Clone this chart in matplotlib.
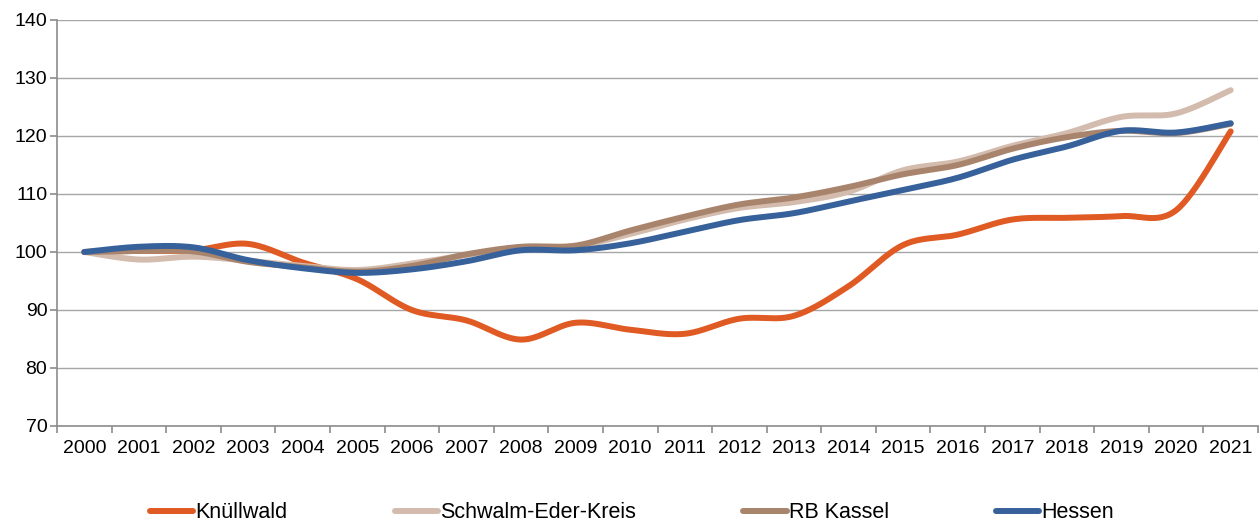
import numpy as np
import matplotlib
matplotlib.use('Agg')
import matplotlib.pyplot as plt

plt.rcParams['font.family'] = ['Liberation Sans', 'DejaVu Sans']

years = [str(y) for y in range(2000, 2022)]

knuellwald = [100.0, 100.2, 100.3, 101.4, 98.2, 95.3, 90.0, 88.2, 84.9, 87.8, 86.6, 85.9,
              88.5, 89.0, 94.1, 101.2, 103.0, 105.6, 105.9, 106.2, 107.2, 120.8]
schwalm_eder = [100.0, 98.7, 99.2, 98.5, 97.6, 96.9, 98.0, 99.5, 100.8, 101.0, 103.1, 105.6,
                107.6, 108.6, 110.4, 114.1, 115.6, 118.3, 120.5, 123.3, 123.9, 127.9]
rb_kassel = [100.0, 100.2, 100.1, 98.3, 97.4, 96.6, 97.6, 99.6, 100.9, 101.1, 103.7, 106.1,
             108.2, 109.4, 111.2, 113.4, 115.0, 117.8, 119.8, 120.9, 120.5, 122.1]
hessen = [100.0, 100.9, 100.8, 98.6, 97.2, 96.4, 97.0, 98.4, 100.3, 100.3, 101.5, 103.5,
          105.5, 106.7, 108.7, 110.7, 112.8, 115.9, 118.2, 120.9, 120.6, 122.2]

series = [
    ('Knüllwald', knuellwald, '#E05A24'),
    ('Schwalm-Eder-Kreis', schwalm_eder, '#D3BCAD'),
    ('RB Kassel', rb_kassel, '#A9846C'),
    ('Hessen', hessen, '#37619A'),
]


def smooth(x, y, n=30):
    """Excel-style smoothed line (Catmull-Rom through every point)."""
    x = np.asarray(x, float)
    y = np.asarray(y, float)
    xs, ys = [], []
    t = np.linspace(0, 1, n, endpoint=False)
    b0 = (1 - t) ** 3
    b1 = 3 * (1 - t) ** 2 * t
    b2 = 3 * (1 - t) * t ** 2
    b3 = t ** 3
    for i in range(len(x) - 1):
        i0 = max(i - 1, 0)
        i3 = min(i + 2, len(x) - 1)
        for src, dst in ((x, xs), (y, ys)):
            p0, p1, p2, p3 = src[i0], src[i], src[i + 1], src[i3]
            c1 = p1 + (p2 - p0) / 6
            c2 = p2 - (p3 - p1) / 6
            dst.append(b0 * p1 + b1 * c1 + b2 * c2 + b3 * p2)
    xs.append([x[-1]])
    ys.append([y[-1]])
    return np.concatenate(xs), np.concatenate(ys)


fig = plt.figure(figsize=(12.6, 5.27), dpi=100)
ax = fig.add_axes([57 / 1260, 1 - 426 / 527, (1258 - 57) / 1260, (426 - 20) / 527])

xpos = np.arange(len(years))
for label, vals, color in series:
    sx, sy = smooth(xpos, vals)
    ax.plot(sx, sy, color=color, linewidth=4.3, solid_capstyle='round', label=label)

ax.set_xlim(-0.5, len(years) - 0.5)
ax.set_ylim(70, 140)
ax.set_yticks(range(70, 141, 10))
ax.set_xticks(xpos)
ax.set_xticklabels(years)
ax.set_xticks(np.arange(-0.5, len(years)), minor=True)

ax.grid(axis='y', color='#A6A6A6', linewidth=1.0)
ax.set_axisbelow(True)
for side in ['top', 'right']:
    ax.spines[side].set_visible(False)
for side in ['left', 'bottom']:
    ax.spines[side].set_color('#8C8C8C')
    ax.spines[side].set_linewidth(1.2)

ax.tick_params(axis='x', which='major', length=0, pad=10, labelsize=14)
ax.tick_params(axis='x', which='minor', length=5, color='#8C8C8C', width=1.2)
ax.tick_params(axis='y', length=5, color='#8C8C8C', width=1.2, pad=2, labelsize=14)

fig.legend(loc='center', bbox_to_anchor=(632 / 1260, 1 - 513 / 527), ncol=4, frameon=False,
           fontsize=15.5, handlelength=2.0, handletextpad=0.1, columnspacing=5.0)

fig.savefig('out.png', dpi=100)
